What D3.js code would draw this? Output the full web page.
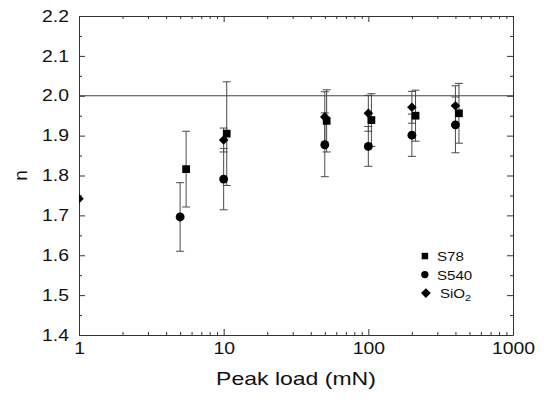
<!DOCTYPE html>
<html>
<head>
<meta charset="utf-8">
<script src="https://cdn.jsdelivr.net/npm/d3@7"></script>
<style>
  body { margin: 0; background: #fff; }
  svg { display: block; font-family: "Liberation Sans", Arial, sans-serif; }
  .axis path, .axis line { stroke: #333; }
</style>
</head>
<body>
<div id="chart"></div>
<script>
// tick labels
const X_TICKS = [1, 10, 100, 1000];
const Y_TICKS = [1.4, 1.5, 1.6, 1.7, 1.8, 1.9, 2.0, 2.1, 2.2];

// S78
const loadS78 = [5.5, 10.5, 51.5, 105, 212, 423];
const nS78    = [1.816, 1.905, 1.937, 1.939, 1.950, 1.956];
const errS78  = [0.095, 0.13, 0.078, 0.066, 0.064, 0.075];

// S540
const loadS540 = [5, 10, 50, 100, 200, 400];
const nS540    = [1.696, 1.791, 1.877, 1.873, 1.901, 1.927];
const errS540  = [0.086, 0.077, 0.08, 0.05, 0.053, 0.07];

// SiO2
const loadSiO2 = [1, 10, 50, 100, 200, 400];
const nSiO2    = [1.742, 1.889, 1.947, 1.956, 1.971, 1.975];
const errSiO2  = [0, 0.03, 0.063, 0.045, 0.04, 0.05];

const REF_LINE = 2.0;

// rotated square, the d3 diamond is too narrow
const symbolRhomb = {
  draw(ctx, size) {
    const r = Math.sqrt(size / 2);
    ctx.moveTo(0, -r);
    ctx.lineTo(r, 0);
    ctx.lineTo(0, r);
    ctx.lineTo(-r, 0);
    ctx.closePath();
  }
};

const series = [
  { name: "S78",  shape: d3.symbolSquare, size: 60, load: loadS78,  n: nS78,  err: errS78 },
  { name: "S540", shape: d3.symbolCircle, size: 62, load: loadS540, n: nS540, err: errS540 },
  { name: "SiO2", shape: symbolRhomb,     size: 46, load: loadSiO2, n: nSiO2, err: errSiO2 }
];

const STRETCH = 1.21; // text in the source is wider than the font

const W = 544, H = 405;
const margin = { top: 16, right: 31, bottom: 70, left: 79 };
const width  = W - margin.left - margin.right;
const height = H - margin.top - margin.bottom;

const root = d3.select("#chart").append("svg")
  .attr("width", W)
  .attr("height", H);

const svg = root.append("g")
  .attr("transform", `translate(${margin.left},${margin.top})`);

const x = d3.scaleLog().domain([1, 1000]).range([0, width]);
const y = d3.scaleLinear().domain([1.4, 2.2]).range([height, 0]);

// minor ticks
const xMinor = [];
for (let dec = 1; dec < 1000; dec *= 10) {
  for (let k = 2; k <= 9; k++) xMinor.push(dec * k);
}
const yMinor = d3.range(1.45, 2.2, 0.1);

svg.append("defs").append("clipPath").attr("id", "clip")
  .append("rect").attr("width", width).attr("height", height);

// reference line n = 2.0
svg.append("line")
  .attr("x1", 0).attr("x2", width)
  .attr("y1", y(REF_LINE)).attr("y2", y(REF_LINE))
  .attr("stroke", "#444").attr("stroke-width", 1);

// axes, ticks inward on all sides
function drawAxis(axisFn, scale, ticks, minor, transform, labels) {
  const g = svg.append("g").attr("class", "axis").attr("transform", transform);
  g.call(axisFn(scale).tickValues(minor).tickSize(-3).tickFormat(""));
  g.select(".domain").remove();
  const g2 = svg.append("g").attr("class", "axis").attr("transform", transform);
  g2.call(axisFn(scale).tickValues(ticks).tickSizeInner(-6).tickSizeOuter(0).tickPadding(labels ? 9 : 0)
    .tickFormat(labels || ""));
  return g2;
}

function widen(sel) {
  sel.each(function() {
    const w = this.getComputedTextLength();
    this.setAttribute("textLength", w * STRETCH);
    this.setAttribute("lengthAdjust", "spacingAndGlyphs");
  });
}

const xb = drawAxis(d3.axisBottom, x, X_TICKS, xMinor, `translate(0,${height})`, d => d);
xb.selectAll("text").attr("font-size", "16px").attr("fill", "#111").attr("dy", "0.6em");
drawAxis(d3.axisTop, x, X_TICKS, xMinor, "translate(0,0)", null);

const yl = drawAxis(d3.axisLeft, y, Y_TICKS, yMinor, "translate(0,0)", d3.format(".1f"));
yl.selectAll("text").attr("font-size", "16px").attr("fill", "#111").attr("dx", "-1");
drawAxis(d3.axisRight, y, Y_TICKS, yMinor, `translate(${width},0)`, null);

svg.selectAll(".axis text").attr("font-family", "'Liberation Sans', Arial, sans-serif");
svg.selectAll(".axis line").attr("stroke", "#333");
svg.selectAll(".axis .domain").attr("stroke", "#333");
widen(svg.selectAll(".axis text"));

// axis titles
const xTitle = svg.append("text")
  .attr("x", x(31.6)).attr("y", height + 50)
  .attr("text-anchor", "middle")
  .attr("font-size", "19px").attr("fill", "#111")
  .text("Peak load (mN)");
widen(xTitle);

svg.append("text")
  .attr("transform", "rotate(-90)")
  .attr("x", -y(1.8)).attr("y", -margin.left + 27)
  .attr("text-anchor", "middle")
  .attr("font-size", "19px").attr("fill", "#111")
  .text("n");

// error bars + markers
const plot = svg.append("g").attr("clip-path", "url(#clip)");

series.forEach(s => {
  const pts = s.load.map((l, i) => ({ l, n: s.n[i], e: s.err[i] }));
  const eb = plot.append("g").selectAll("g")
    .data(pts.filter(p => p.e > 0))
    .join("g")
    .attr("stroke", "#4a4a4a").attr("stroke-width", 1);
  eb.append("line")
    .attr("x1", d => x(d.l)).attr("x2", d => x(d.l))
    .attr("y1", d => y(d.n - d.e)).attr("y2", d => y(d.n + d.e));
  eb.append("line")
    .attr("x1", d => x(d.l) - 4).attr("x2", d => x(d.l) + 4)
    .attr("y1", d => y(d.n + d.e)).attr("y2", d => y(d.n + d.e));
  eb.append("line")
    .attr("x1", d => x(d.l) - 4).attr("x2", d => x(d.l) + 4)
    .attr("y1", d => y(d.n - d.e)).attr("y2", d => y(d.n - d.e));
});

series.forEach(s => {
  const pts = s.load.map((l, i) => ({ l, n: s.n[i] }));
  plot.append("g").selectAll("path")
    .data(pts)
    .join("path")
    .attr("transform", d => `translate(${x(d.l)},${y(d.n)})`)
    .attr("d", d3.symbol().type(s.shape).size(s.size))
    .attr("fill", "#000");
});

// legend
const legend = svg.append("g").attr("transform", `translate(${x(246)},${y(1.598)})`);
series.forEach((s, i) => {
  const row = legend.append("g").attr("transform", `translate(0,${i * 18.5})`);
  row.append("path")
    .attr("transform", s.name === "SiO2" ? "translate(1,0)" : null)
    .attr("d", d3.symbol().type(s.shape).size(s.name === "SiO2" ? 48 : 42))
    .attr("fill", "#000");
  const t = row.append("text")
    .attr("x", s.name === "SiO2" ? 15 : 12).attr("y", 5)
    .attr("font-size", "12.5px").attr("fill", "#111");
  if (s.name === "SiO2") {
    t.text("SiO");
    t.append("tspan").attr("font-size", "9px").attr("dy", 3).text("2");
  } else {
    t.text(s.name);
  }
  widen(t);
});
</script>
</body>
</html>
